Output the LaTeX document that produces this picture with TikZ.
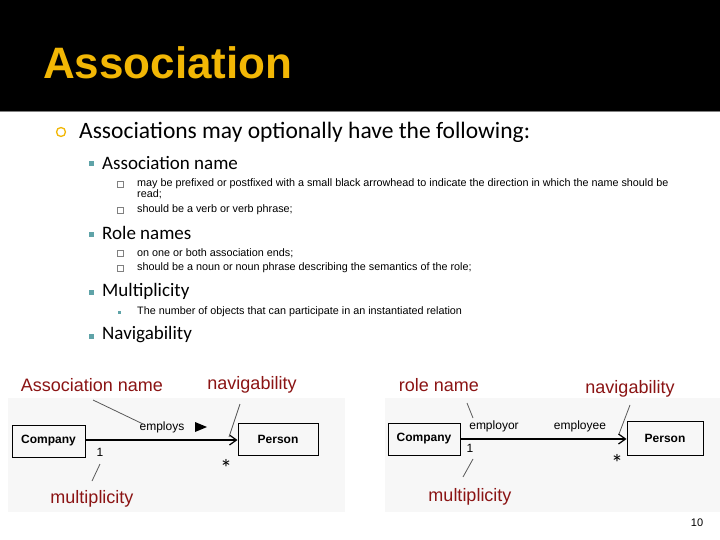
\documentclass[tikz,border=0pt]{standalone}
\usepackage{fontspec}
\setmainfont{Carlito}
\newfontfamily\arial{Liberation Sans}
\usetikzlibrary{arrows.meta}
\definecolor{gold}{HTML}{F2B705}
\definecolor{lab}{HTML}{8B1414}
\definecolor{teal}{HTML}{5FA3A8}
\begin{document}
\begin{tikzpicture}[x=1pt,y=-1pt,
  t1/.style={anchor=west,inner sep=0,font=\fontsize{23.5}{25}\selectfont},
  t2/.style={anchor=west,inner sep=0,font=\fontsize{19}{21}\selectfont},
  t3/.style={anchor=west,inner sep=0,font=\arial\fontsize{10.8}{11}\selectfont,align=left},
  sq/.style={draw=gray,line width=0.4pt,minimum size=6pt,inner sep=0},
  bx/.style={draw,line width=1pt,font=\arial\bfseries\fontsize{12}{13}\selectfont,inner sep=0},
  lab/.style={text=lab,font=\arial\fontsize{18}{20}\selectfont,inner sep=0},
  sm/.style={font=\arial\fontsize{12}{13}\selectfont,inner sep=0},
  ptr/.style={draw=gray!70!black,line width=0.8pt}]
\useasboundingbox (0,0) rectangle (720,540);
\fill[white] (0,0) rectangle (720,540);
\fill[black] (0,0) rectangle (720,111);
\draw[gray,line width=1pt] (0,112) -- (720,112);
\node[anchor=west,inner sep=0,text=gold,font=\arial\bfseries\fontsize{44}{48}\selectfont] (title) at (43,63) {Association};
% bullets
\node[draw=gold,circle,line width=1.3pt,minimum size=9pt,inner sep=0] (b0) at (61,132) {};
\node[t1] (l0) at (79,132) {Associations may optionally have the following:};
\node[fill=teal,minimum size=5pt,inner sep=0] (s1) at (91,164) {};
\node[t2] (l1) at (102,163) {Association name};
\node[sq] (q1) at (120,184) {};
\node[t3,anchor=north west] (l11) at (137,178) {may be prefixed or postfixed with a small black arrowhead to indicate the direction in which the name should be\\read;};
\node[sq] (q2) at (120,210) {};
\node[t3] (l12) at (137,210) {should be a verb or verb phrase;};
\node[fill=teal,minimum size=5pt,inner sep=0] (s2) at (91,234) {};
\node[t2] (l2) at (102,233) {Role names};
\node[sq] (q3) at (120,253) {};
\node[t3] (l21) at (137,253) {on one or both association ends;};
\node[sq] (q4) at (120,268) {};
\node[t3] (l22) at (137,268) {should be a noun or noun phrase describing the semantics of the role;};
\node[fill=teal,minimum size=5pt,inner sep=0] (s3) at (91,292) {};
\node[t2] (l3) at (102,291) {Multiplicity};
\node[fill=teal,minimum size=3pt,inner sep=0] (q5) at (119,312) {};
\node[t3] (l31) at (137,312) {The number of objects that can participate in an instantiated relation};
\node[fill=teal,minimum size=5pt,inner sep=0] (s4) at (91,336) {};
\node[t2] (l4) at (102,335) {Navigability};
% image backgrounds
\fill[gray!6] (8,398) rectangle (345,512);
\fill[gray!6] (385,398) rectangle (720,512);
% left diagram
\node[bx,minimum width=73pt,minimum height=32pt] (c1) at (48.5,441) {Company};
\node[bx,minimum width=80pt,minimum height=32pt] (p1) at (278,439) {Person};
\draw[line width=1.2pt,-{Straight Barb[length=7pt,width=10pt]}] (c1.east |- 0,440) -- (p1.west |- 0,440);
\node[sm] (emp) at (162,427) {employs};
\fill (195,422) -- (207,427) -- (195,432) -- cycle;
\node[sm] (one1) at (100,452) {1};
\node[font=\fontsize{24}{24}\selectfont,inner sep=0] (st1) at (226,468) {*};
\node[lab] (an) at (92,385) {Association name};
\node[lab] (nv1) at (252,385) {navigability};
\node[lab] (mu1) at (92,499) {multiplicity};
\coordinate (a1) at (93,400); \coordinate (a2) at (143,424);
\coordinate (n1) at (240,404); \coordinate (n2) at (229,437);
\coordinate (m1) at (100,464); \coordinate (m2) at (92,481);
\draw[ptr] (a1) -- (a2); \draw[ptr] (n1) -- (n2); \draw[ptr] (m1) -- (m2);
% right diagram
\node[bx,minimum width=72pt,minimum height=32pt] (c2) at (424,439) {Company};
\node[bx,minimum width=76pt,minimum height=34pt] (p2) at (665,438) {Person};
\draw[line width=1.2pt,-{Straight Barb[length=7pt,width=10pt]}] (c2.east |- 0,439) -- (p2.west |- 0,439);
\node[sm] (er) at (494,426) {employor};
\node[sm] (ee) at (580,426) {employee};
\node[sm] (one2) at (470,448) {1};
\node[font=\fontsize{24}{24}\selectfont,inner sep=0] (st2) at (617,463) {*};
\node[lab] (rn) at (439,385) {role name};
\node[lab] (nv2) at (630,389) {navigability};
\node[lab] (mu2) at (470,497) {multiplicity};
\coordinate (r1) at (467,403); \coordinate (r2) at (473,418);
\coordinate (v1) at (630,405); \coordinate (v2) at (619,434);
\coordinate (w1) at (473,459); \coordinate (w2) at (463,477);
\draw[ptr] (r1) -- (r2); \draw[ptr] (v1) -- (v2); \draw[ptr] (w1) -- (w2);
\node[font=\arial\fontsize{11}{12}\selectfont,inner sep=0] (pg) at (697,523) {10};
\end{tikzpicture}
\end{document}
